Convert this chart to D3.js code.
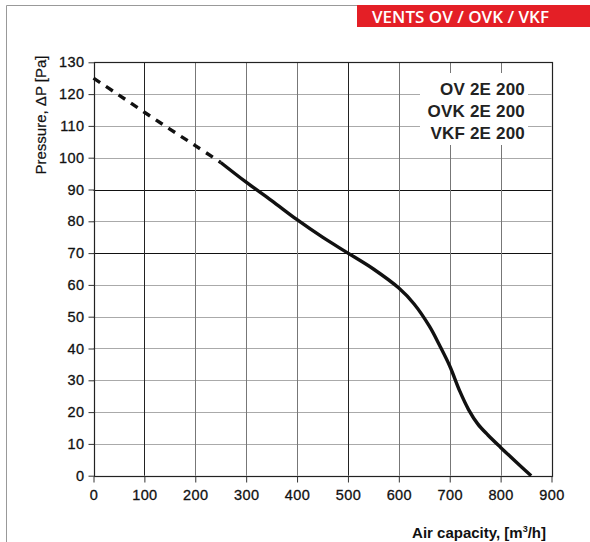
<!DOCTYPE html>
<html>
<head>
<meta charset="utf-8">
<script src="https://cdn.jsdelivr.net/npm/d3@7"></script>
<style>
  body { margin: 0; background: #fff; }
  text { font-family: "Liberation Sans", Arial, sans-serif; }
</style>
</head>
<body>
<svg id="chart"></svg>
<script>
// curve of the fan
var dashedFlow = [0, 50, 100, 150, 200, 250];
var dashedPressure = [125, 119.7, 114.3, 109, 103.8, 98.5];
var solidFlow = [250, 300, 350, 400, 450, 500, 550, 600, 630, 660, 680, 700, 720, 737, 755, 775, 800, 830, 860];
var solidPressure = [98.5, 92.3, 86.5, 80.5, 75, 70, 65, 59, 54, 47, 41, 34.5, 26.5, 20.8, 16.3, 12.8, 8.9, 4.4, 0];
var xTicks = [0, 100, 200, 300, 400, 500, 600, 700, 800, 900];
var yTicks = [0, 10, 20, 30, 40, 50, 60, 70, 80, 90, 100, 110, 120, 130];
var models = ['OV 2E 200', 'OVK 2E 200', 'VKF 2E 200'];

var svgWidth = 590, svgHeight = 542;
var plotLeft = 93.5, plotRight = 551.5, plotTop = 62.3, plotBottom = 475.7;

var svg = d3.select('#chart')
  .attr('width', svgWidth)
  .attr('height', svgHeight);

var x = d3.scaleLinear().domain([0, 900]).range([plotLeft, plotRight]);
var y = d3.scaleLinear().domain([0, 130]).range([plotBottom, plotTop]);

// page frame
svg.append('line').attr('x1', 6.5).attr('y1', 5.5).attr('x2', 358).attr('y2', 5.5)
  .attr('stroke', '#999').attr('stroke-width', 1);
svg.append('line').attr('x1', 6.5).attr('y1', 5.5).attr('x2', 6.5).attr('y2', svgHeight)
  .attr('stroke', '#999').attr('stroke-width', 1);

// banner
svg.append('rect').attr('x', 357).attr('y', 5).attr('width', 233).attr('height', 22)
  .attr('fill', '#e41f26');
svg.append('text').attr('x', 372).attr('y', 22.5)
  .attr('fill', '#fff')
  .style('font-family', '"Open Sans", sans-serif')
  .style('font-weight', 600)
  .style('font-size', '17px')
  .text('VENTS OV / OVK / VKF');

// grid
svg.selectAll('.hgrid')
  .data(yTicks.filter(function(d) { return d > 0 && d < 130; }))
  .enter()
  .append('line')
  .attr('x1', plotLeft).attr('x2', plotRight)
  .attr('y1', function(d) { return Math.round(y(d)) + 0.5; })
  .attr('y2', function(d) { return Math.round(y(d)) + 0.5; })
  .attr('stroke', function(d) { return (d == 70 || d == 90) ? '#111' : '#aaa'; })
  .attr('stroke-width', 1);

svg.selectAll('.vgrid')
  .data(xTicks.filter(function(d) { return d > 0 && d < 900; }))
  .enter()
  .append('line')
  .attr('y1', plotTop).attr('y2', plotBottom)
  .attr('x1', function(d) { return Math.round(x(d)) + 0.5; })
  .attr('x2', function(d) { return Math.round(x(d)) + 0.5; })
  .attr('stroke', function(d) { return (d == 100 || d == 500) ? '#222' : '#777'; })
  .attr('stroke-width', 1);

// plot frame
svg.append('rect')
  .attr('x', Math.round(plotLeft) + 0.5).attr('y', Math.round(plotTop) + 0.5)
  .attr('width', Math.round(plotRight) - Math.round(plotLeft))
  .attr('height', Math.round(plotBottom) - Math.round(plotTop))
  .attr('fill', 'none').attr('stroke', '#222').attr('stroke-width', 1.2);

// axes ticks and labels
var yAxis = d3.axisLeft(y).tickValues(yTicks).tickSize(6).tickPadding(4);
var xAxis = d3.axisBottom(x).tickValues(xTicks).tickSize(6).tickPadding(7);

var gy = svg.append('g').attr('transform', 'translate(' + (Math.round(plotLeft) + 0.5) + ',0)').call(yAxis);
var gx = svg.append('g').attr('transform', 'translate(0,' + (Math.round(plotBottom) + 0.5) + ')').call(xAxis);
[gy, gx].forEach(function(g) {
  g.select('.domain').remove();
  g.selectAll('line').attr('stroke', '#333');
  g.selectAll('text')
    .style('font-family', '"Liberation Sans", Arial, sans-serif')
    .style('font-size', '14.5px')
    .style('letter-spacing', '0.4px')
    .attr('fill', '#111')
    .attr('stroke', '#111')
    .attr('stroke-width', 0.3);
});

// legend box
svg.append('rect').attr('x', 420).attr('y', 73).attr('width', 108).attr('height', 72)
  .attr('fill', '#fff');
svg.selectAll('.model')
  .data(models)
  .enter()
  .append('text')
  .attr('x', 525)
  .attr('y', function(d, i) { return 94.5 + i * 22.3; })
  .attr('text-anchor', 'end')
  .style('font-weight', 'bold')
  .style('font-size', '17px')
  .style('letter-spacing', '0.2px')
  .attr('fill', '#222')
  .text(function(d) { return d; });

// curve
var line = d3.line()
  .x(function(d) { return x(d[0]); })
  .y(function(d) { return y(d[1]); })
  .curve(d3.curveCatmullRom.alpha(0.5));

svg.append('path')
  .datum(d3.zip(dashedFlow, dashedPressure))
  .attr('d', line)
  .attr('fill', 'none')
  .attr('stroke', '#111')
  .attr('stroke-width', 3.4)
  .attr('stroke-dasharray', '8,7');

svg.append('path')
  .datum(d3.zip(solidFlow, solidPressure))
  .attr('d', line)
  .attr('fill', 'none')
  .attr('stroke', '#111')
  .attr('stroke-width', 3.4);

// axis titles
svg.append('text')
  .attr('transform', 'translate(46,115) rotate(-90)')
  .attr('text-anchor', 'middle')
  .style('font-size', '15px')
  .attr('fill', '#111')
  .attr('stroke', '#111')
  .attr('stroke-width', 0.2)
  .text('Pressure, ΔP [Pa]');

var xt = svg.append('text')
  .attr('x', 546).attr('y', 538)
  .attr('text-anchor', 'end')
  .style('font-size', '15px')
  .style('font-weight', 'bold')
  .attr('fill', '#111');
xt.append('tspan').text('Air capacity, [m');
xt.append('tspan').attr('dy', -6).style('font-size', '9px').text('3');
xt.append('tspan').attr('dy', 6).text('/h]');
</script>
</body>
</html>
